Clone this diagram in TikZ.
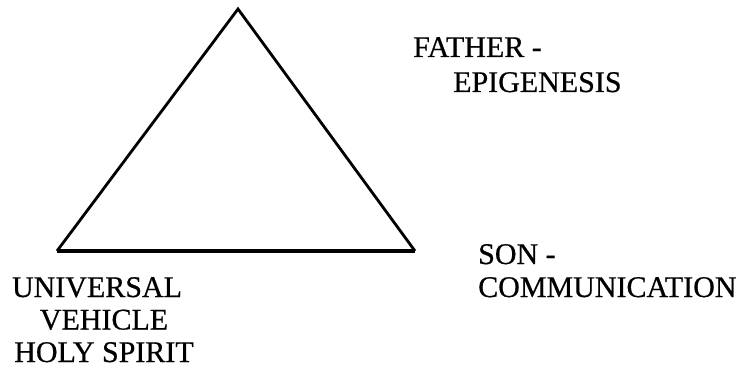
\documentclass[tikz,border=0pt]{standalone}
\usepackage{fontspec}
\setmainfont{Liberation Serif}
\newfontfamily\scanfont[FakeBold=0.6]{Liberation Serif}
\tikzset{
  label text/.style={inner sep=0pt,font=\scanfont\fontsize{30}{32.5}\selectfont},
  side/.style={line width=2.8pt,line join=miter,line cap=butt},
}

\begin{document}
\begin{tikzpicture}[x=1pt,y=-1pt]
  \useasboundingbox (0,0) rectangle (742,369);
  % triangle
  \coordinate (top) at (238,9);
  \coordinate (left) at (57,251);
  \coordinate (right) at (415,251);
  \draw[side] (left)--(top)--(right);
  \draw[line width=3.8pt] (left)--(right);
  % labels
  \node[label text,anchor=base west] (father) at (413,57) {FATHER -};
  \node[label text,anchor=base west] (epigen) at (453,92) {EPIGENESIS};
  \node[label text,anchor=base west] (son) at (478,264) {SON -};
  \node[label text,anchor=base west] (comm) at (478,297) {COMMUNICATION};
  \node[label text,anchor=base,align=center] (spirit) at (104,362) {UNIVERSAL\kern14pt\\VEHICLE\\HOLY SPIRIT};
\end{tikzpicture}
\end{document}
